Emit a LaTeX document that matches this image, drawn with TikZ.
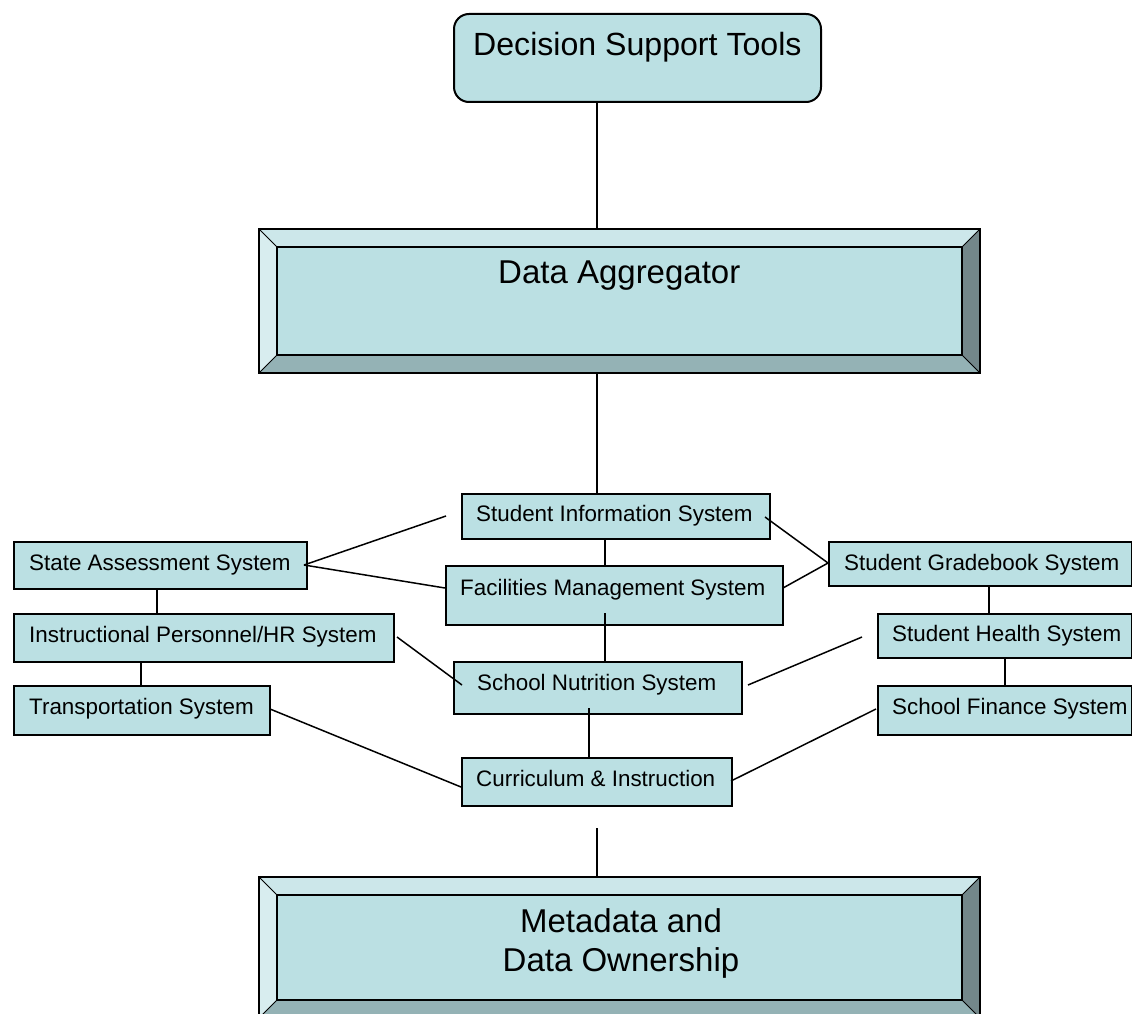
\documentclass[tikz,border=0pt]{standalone}
\usepackage{fontspec}
\setmainfont{Liberation Sans}
\definecolor{boxfill}{RGB}{187,224,227}
\definecolor{bvtop}{RGB}{204,231,234}
\definecolor{bvleft}{RGB}{216,237,239}
\definecolor{bvright}{RGB}{115,135,138}
\definecolor{bvbottom}{RGB}{148,178,181}
\tikzset{
  sbox/.style={draw=black, line width=2pt, fill=boxfill, rectangle, inner sep=0pt, anchor=north west},
  lbl/.style={inner sep=0pt, anchor=west, text height=16pt, text depth=0pt, font=\fontsize{22.4}{26}\selectfont},
  biglbl/.style={inner sep=0pt, text height=23.6pt, text depth=0pt, font=\fontsize{33}{38}\selectfont},
  conn/.style={draw=black, line width=1.5pt},
}
\newcommand{\bevelframe}[5]{% x1 y1 x2 y2 b
  \fill[bvtop] (#1,#2) -- (#3,#2) -- (#3-#5,#2+#5) -- (#1+#5,#2+#5) -- cycle;
  \fill[bvleft] (#1,#2) -- (#1+#5,#2+#5) -- (#1+#5,#4-#5) -- (#1,#4) -- cycle;
  \fill[bvright] (#3,#2) -- (#3,#4) -- (#3-#5,#4-#5) -- (#3-#5,#2+#5) -- cycle;
  \fill[bvbottom] (#1,#4) -- (#3,#4) -- (#3-#5,#4-#5) -- (#1+#5,#4-#5) -- cycle;
  \fill[boxfill] (#1+#5,#2+#5) rectangle (#3-#5,#4-#5);
  \draw[line width=2pt] (#1,#2) rectangle (#3,#4);
  \draw[line width=2pt] (#1+#5,#2+#5) rectangle (#3-#5,#4-#5);
  \draw[line width=1pt] (#1,#2) -- (#1+#5,#2+#5) (#3,#2) -- (#3-#5,#2+#5)
     (#1,#4) -- (#1+#5,#4-#5) (#3,#4) -- (#3-#5,#4-#5);
}
\begin{document}
\begin{tikzpicture}[x=1pt,y=-1pt]
\useasboundingbox (0,0) rectangle (1132,1014);
\fill[white] (0,0) rectangle (1132,1014);
\begin{scope}
\clip (0,0) rectangle (1132,1014);

% Decision Support Tools
\node[draw=black, line width=2pt, fill=boxfill, rounded corners=15pt, rectangle, inner sep=0pt,
      minimum width=367pt, minimum height=88pt, anchor=north west] (dst) at (453,13) {};
\node[biglbl, anchor=west, font=\fontsize{32.1}{37}\selectfont, text height=23pt] (dstt) at (473,44) {Decision Support Tools};

% Data Aggregator
\bevelframe{259}{229}{980}{373}{18}
\coordinate (datop) at (597,229);
\coordinate (dabot) at (597,373);
\node[biglbl, anchor=west] (dat) at (498,271.5) {Data Aggregator};

% Metadata
\bevelframe{259}{877}{980}{1018}{18}
\coordinate (mdtop) at (597,877);
\node[biglbl] (md1) at (621,920.5) {Metadata and};
\node[biglbl] (md2) at (621,960) {Data Ownership};

% connectors to big boxes
\draw[conn] (dst.south -| datop) -- (datop);
\coordinate (sistop) at (597,493);
\draw[conn] (dabot) -- (sistop);

% small boxes
\node[sbox, minimum width=308pt, minimum height=45pt] (sis) at (461,493) {};
\node[sbox, minimum width=337pt, minimum height=59pt] (fms) at (445,565) {};
\node[sbox, minimum width=288pt, minimum height=52pt] (sns) at (453,661) {};
\node[sbox, minimum width=270pt, minimum height=48pt] (ci) at (461,757) {};
\node[sbox, minimum width=293pt, minimum height=47pt] (sas) at (13,541) {};
\node[sbox, minimum width=380pt, minimum height=48pt] (iphr) at (13,613) {};
\node[sbox, minimum width=256pt, minimum height=49pt] (ts) at (13,685) {};
\node[sbox, minimum width=303pt, minimum height=44pt] (sgs) at (828,541) {};
\node[sbox, minimum width=254pt, minimum height=44pt] (shs) at (877,613) {};
\node[sbox, minimum width=254pt, minimum height=49pt] (sfs) at (877,685) {};

% labels
\node[lbl] (sist) at (476,513) {Student Information System};
\node[lbl] (fmst) at (460,587) {Facilities Management System};
\node[lbl] (snst) at (477,682) {School Nutrition System};
\node[lbl] (cit) at (476,778) {Curriculum \& Instruction};
\node[lbl] (sast) at (29,562) {State Assessment System};
\node[lbl] (iphrt) at (29,634) {Instructional Personnel/HR System};
\node[lbl] (tst) at (29,706) {Transportation System};
\node[lbl] (sgst) at (844,562) {Student Gradebook System};
\node[lbl] (shst) at (892,633) {Student Health System};
\node[lbl] (sfst) at (892,706) {School Finance System};

% connector end points
\coordinate (sasr) at (304,565);
\coordinate (e1) at (446,516);
\coordinate (e2) at (445,588);
\coordinate (iphrr) at (397,637);
\coordinate (e3) at (462,685);
\coordinate (tsr) at (270,709);
\coordinate (e4) at (461,787);
\coordinate (sisr) at (765,517);
\coordinate (sgsl) at (828,563);
\coordinate (fmsr) at (783,588);
\coordinate (snsr) at (748,685);
\coordinate (e5) at (862,637);
\coordinate (cir) at (731,781);
\coordinate (sfsl) at (876,709);
\coordinate (fmsin) at (605,613);
\coordinate (snsin) at (589,708);
\coordinate (cigap) at (597,828);

\draw[conn] (sasr) -- (e1);
\draw[conn] (sasr) -- (e2);
\draw[conn] (iphrr) -- (e3);
\draw[conn] (tsr) -- (e4);
\draw[conn] (sisr) -- (sgsl);
\draw[conn] (fmsr) -- (sgsl);
\draw[conn] (snsr) -- (e5);
\draw[conn] (cir) -- (sfsl);

\draw[conn] (sis.south -| fmsin) -- (fms.north -| fmsin);
\draw[conn] (fmsin) -- (sns.north -| fmsin);
\draw[conn] (snsin) -- (ci.north -| snsin);
\draw[conn] (cigap) -- (mdtop);
\draw[conn] (sas.south -| 157,0) -- (iphr.north -| 157,0);
\draw[conn] (iphr.south -| 141,0) -- (ts.north -| 141,0);
\draw[conn] (sgs.south -| 989,0) -- (shs.north -| 989,0);
\draw[conn] (shs.south -| 1005,0) -- (sfs.north -| 1005,0);
\end{scope}
\end{tikzpicture}
\end{document}
